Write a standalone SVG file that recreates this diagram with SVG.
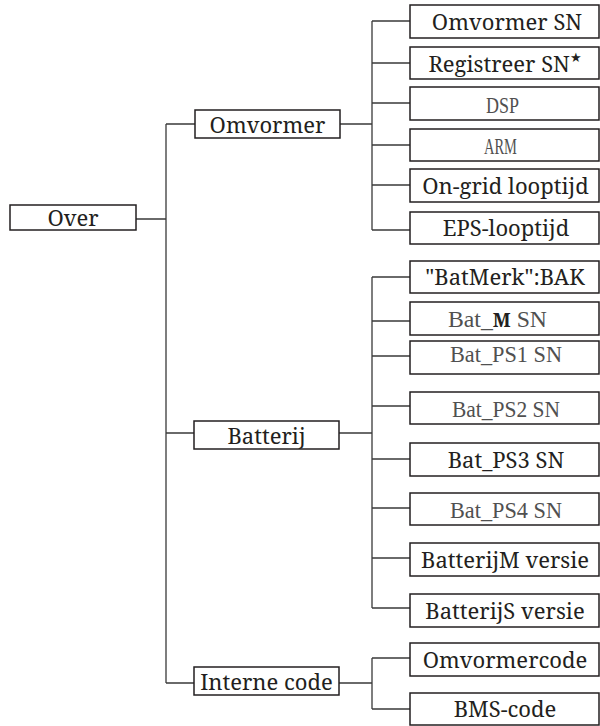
<svg xmlns="http://www.w3.org/2000/svg" width="600" height="726" viewBox="0 0 600 726">
<style>
.box{fill:#fff;stroke:#231f20;stroke-width:1.5}
.t{font-family:"Noto Serif","DejaVu Serif",serif;font-size:22px;fill:#231f20;text-anchor:middle}
.g{font-family:"Liberation Serif",serif;font-size:24px;fill:#505050}
.c{fill:none;stroke:#3a3a3a;stroke-width:1.3}
</style>
<rect width="600" height="726" fill="#fff"/>
<g id="connectors" class="c">
<path d="M136 219H166M166 124V683M166 124H195M166 433H194M166 683H194"/>
<path d="M340 124H372M372 21V230M372 21H410M372 63H410M372 103H410M372 145H410M372 185H410M372 230H410"/>
<path d="M339 433H372M372 277V608M372 277H410M372 321H410M372 356H410M372 406H410M372 459H410M372 508H410M372 558H410M372 608H410"/>
<path d="M339 683H372M372 658V709M372 658H410M372 709H410"/>
</g>
<g id="over"><rect class="box" x="10" y="205" width="126" height="25"/><text class="t" x="73" y="225.5">Over</text></g>
<g id="omvormer"><rect class="box" x="195" y="110" width="145" height="28"/><text class="t" x="267.5" y="132.5">Omvormer</text></g>
<g id="batterij"><rect class="box" x="194" y="421" width="145" height="28"/><text class="t" x="266.5" y="443.5">Batterij</text></g>
<g id="interne-code"><rect class="box" x="194" y="667" width="145" height="28"/><text class="t" x="266.5" y="689.5">Interne code</text></g>
<g id="omvormer-sn"><rect class="box" x="410" y="5" width="189" height="33"/><text class="t" x="507" y="29.5">Omvormer SN</text></g>
<g id="registreer-sn"><rect class="box" x="410" y="47" width="189" height="32"/><text class="t" x="505" y="71.5">Registreer SN<tspan font-family="DejaVu Sans" font-size="13" dy="-9.5">★</tspan></text></g>
<g id="dsp"><rect class="box" x="410" y="87" width="189" height="33"/><text class="g" x="486" y="113" textLength="33" lengthAdjust="spacingAndGlyphs">DSP</text></g>
<g id="arm"><rect class="box" x="410" y="129" width="189" height="32"/><text class="g" x="484" y="154" textLength="33" lengthAdjust="spacingAndGlyphs">ARM</text></g>
<g id="on-grid"><rect class="box" x="410" y="169" width="189" height="33"/><text class="t" x="505.5" y="193.5">On-grid looptijd</text></g>
<g id="eps"><rect class="box" x="410" y="212" width="189" height="32"/><text class="t" x="506" y="236">EPS-looptijd</text></g>
<g id="batmerk"><rect class="box" x="410" y="261" width="189" height="32"/><text class="t" x="505" y="285">"BatMerk":BAK</text></g>
<g id="bat-m-sn"><rect class="box" x="410" y="302" width="189" height="33"/><text class="g" x="448" y="326.5" textLength="99" lengthAdjust="spacingAndGlyphs">Bat_<tspan font-family="Noto Serif" font-weight="bold" font-size="19" fill="#231f20">M</tspan> SN</text></g>
<g id="bat-ps1-sn"><rect class="box" x="410" y="341" width="189" height="33"/><text class="g" x="450" y="362" textLength="112" lengthAdjust="spacingAndGlyphs">Bat_PS1 SN</text></g>
<g id="bat-ps2-sn"><rect class="box" x="410" y="392" width="189" height="32"/><text class="g" x="452" y="416.5" textLength="108" lengthAdjust="spacingAndGlyphs">Bat_PS2 SN</text></g>
<g id="bat-ps3-sn"><rect class="box" x="410" y="443" width="189" height="33"/><text class="t" x="506" y="467.5">Bat_PS3 SN</text></g>
<g id="bat-ps4-sn"><rect class="box" x="410" y="493" width="189" height="32"/><text class="g" x="450" y="517.5" textLength="112" lengthAdjust="spacingAndGlyphs">Bat_PS4 SN</text></g>
<g id="batterijm-versie"><rect class="box" x="410" y="543" width="189" height="33"/><text class="t" x="505" y="567.5">BatterijM versie</text></g>
<g id="batterijs-versie"><rect class="box" x="410" y="594" width="189" height="33"/><text class="t" x="505" y="618.5">BatterijS versie</text></g>
<g id="omvormercode"><rect class="box" x="410" y="643" width="189" height="33"/><text class="t" x="505" y="667.5">Omvormercode</text></g>
<g id="bms-code"><rect class="box" x="410" y="693" width="189" height="32"/><text class="t" x="505" y="717">BMS-code</text></g>
</svg>
